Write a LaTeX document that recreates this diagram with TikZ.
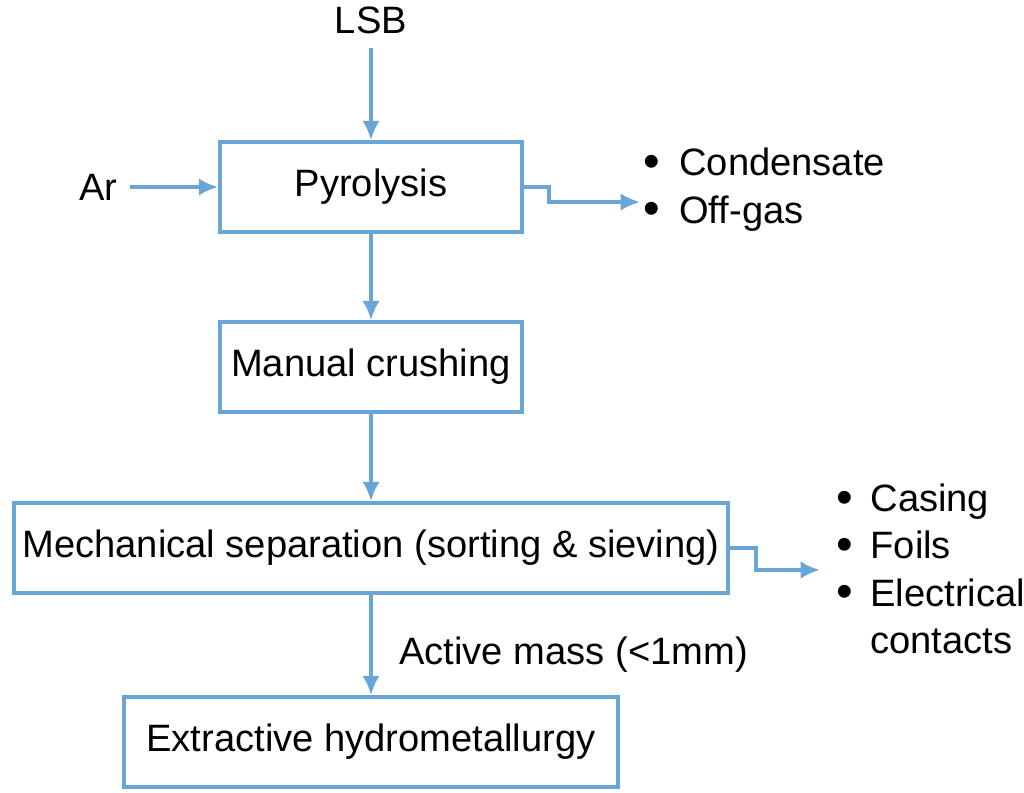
\documentclass[tikz,border=0pt]{standalone}
\usepackage{fontspec}
\setmainfont{Liberation Sans}
\usetikzlibrary{arrows.meta}
\definecolor{flowblue}{RGB}{105,165,215}
\newcommand{\bigdot}{{\fontsize{27}{27}\selectfont\raisebox{-1pt}{\textbullet}}}
\tikzset{
  stage/.style={draw=flowblue, line width=2.2pt, minimum height=1.8cm, font=\fontsize{21.7}{27}\selectfont},
  flow/.style={draw=flowblue, line width=2.2pt, -{Latex[length=11pt,width=10pt]}},
  lbl/.style={font=\fontsize{21.7}{27}\selectfont, inner sep=0pt}
}
\begin{document}
\begin{tikzpicture}[x=0.02cm,y=-0.02cm]
        \useasboundingbox (0,0) rectangle (1024,792);
        \node[stage, minimum width=6.04cm] (pyro) at (371,187) {Pyrolysis};
        \node[stage, minimum width=6.04cm] (crush) at (371,367) {Manual crushing};
        \node[stage, minimum width=14.28cm] (mech) at (371,548) {Mechanical separation (sorting \& sieving)};
        \node[stage, minimum width=9.88cm] (hydro) at (371,742) {Extractive hydrometallurgy};
        \node[lbl] (lsb) at (371,20) {LSB};
        \node[lbl, anchor=east] (ar) at (118,187) {Ar};
        \node[lbl, anchor=west] (gases) at (643,190) {\begin{tabular}{@{}c@{\hspace{11pt}}l@{}}\bigdot & Condensate\\ \bigdot & Off-gas\end{tabular}};
        \node[lbl, anchor=west] (parts) at (836,573) {\begin{tabular}{@{}c@{\hspace{10pt}}l@{}}\bigdot & Casing\\ \bigdot & Foils\\ \bigdot & Electrical\\ & contacts\end{tabular}};
        \coordinate (gasin) at (640,202);
        \coordinate (partsin) at (820,570);

        \draw[flow, shorten <=8pt] (lsb.south) -- (pyro.north);
        \draw[flow, shorten <=7pt] (ar.east) -- (pyro.west);
        \draw[flow] (pyro) -- (crush);
        \draw[flow] (crush) -- (mech);
        \draw[flow] (mech) -- (hydro) node[lbl, pos=0.6, right=15pt] {Active mass (<1mm)};
        \draw[flow] (pyro.east) -- ++(25,0) |- (gasin);
        \draw[flow] (mech.east) -- ++(26,0) |- (partsin);
    \end{tikzpicture}
\end{document}
